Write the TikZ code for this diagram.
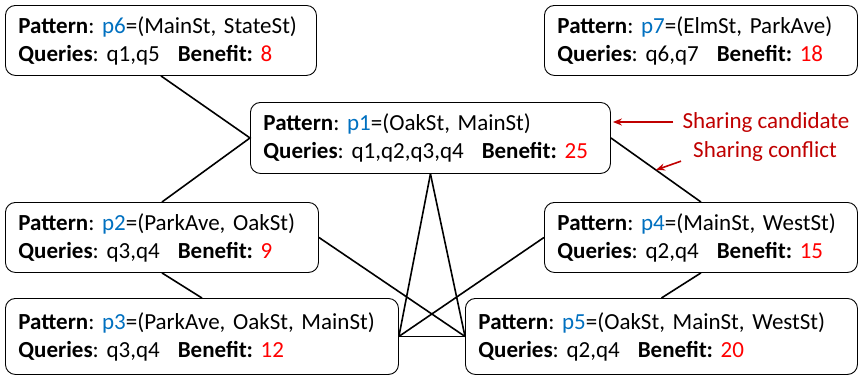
\documentclass[tikz,border=0pt]{standalone}
\usepackage{fontspec}
\setmainfont{Carlito}
\usetikzlibrary{arrows.meta, positioning, calc}
\definecolor{pblue}{HTML}{0070C0}
\definecolor{bred}{HTML}{FF0000}
\definecolor{notered}{HTML}{C00000}
\frenchspacing

\begin{document}
\begin{tikzpicture}[
      x=1pt, y=-1pt,
      pat/.style={rectangle, rounded corners=10pt, draw, line width=0.9pt, anchor=north west,
                  align=left, inner xsep=13pt, inner ysep=0pt, minimum height=70pt,
                  font=\fontsize{23}{28}\selectfont},
      link/.style={line width=1.6pt},
      note/.style={-{Stealth[length=9pt, width=7pt]}, notered, line width=1.6pt},
      notetext/.style={text=notered, inner sep=0pt, font=\fontsize{23}{28}\selectfont}
    ]
      \useasboundingbox (0,0) rectangle (861,378);
      \node[pat, text width=285pt] (p6) at (5,5)
        {\textbf{Pattern}: \textcolor{pblue}{p6}=(MainSt, StateSt)\\
         \textbf{Queries}: q1,q5\hspace{0.45em} \textbf{Benefit:} \textcolor{bred}{8}};
      \node[pat, text width=287pt] (p7) at (544,5)
        {\textbf{Pattern}: \textcolor{pblue}{p7}=(ElmSt, ParkAve)\\
         \textbf{Queries}: q6,q7\hspace{0.45em} \textbf{Benefit:} \textcolor{bred}{18}};
      \node[pat, text width=334pt, minimum height=71pt] (p1) at (250,102)
        {\textbf{Pattern}: \textcolor{pblue}{p1}=(OakSt, MainSt)\\
         \textbf{Queries}: q1,q2,q3,q4\hspace{0.45em} \textbf{Benefit:} \textcolor{bred}{25}};
      \node[pat, text width=287pt] (p2) at (5,202)
        {\textbf{Pattern}: \textcolor{pblue}{p2}=(ParkAve, OakSt)\\
         \textbf{Queries}: q3,q4\hspace{0.45em} \textbf{Benefit:} \textcolor{bred}{9}};
      \node[pat, text width=287pt] (p4) at (544,202)
        {\textbf{Pattern}: \textcolor{pblue}{p4}=(MainSt, WestSt)\\
         \textbf{Queries}: q2,q4\hspace{0.45em} \textbf{Benefit:} \textcolor{bred}{15}};
      \node[pat, text width=367pt, minimum height=76pt] (p3) at (5,298)
        {\textbf{Pattern}: \textcolor{pblue}{p3}=(ParkAve, OakSt, MainSt)\\
         \textbf{Queries}: q3,q4\hspace{0.45em} \textbf{Benefit:} \textcolor{bred}{12}};
      \node[pat, text width=366pt, minimum height=76pt] (p5) at (465,298)
        {\textbf{Pattern}: \textcolor{pblue}{p5}=(OakSt, MainSt, WestSt)\\
         \textbf{Queries}: q2,q4\hspace{0.45em} \textbf{Benefit:} \textcolor{bred}{20}};
      % conflict edges
      \draw[link] (p6.south) -- (p1.west) -- (p2.north);
      \draw[link] (p1.east) -- (p4.north);
      \draw[link] (p2.south) -- (p3.north);
      \draw[link] (p4.south) -- (p5.north);
      \draw[link] (p1.south) -- (p3.east);
      \draw[link] (p1.south) -- (p5.west);
      \draw[link] (p3.east) -- (p5.west);
      \draw[link] (p2.east) -- (p5.west);
      \draw[link] (p4.west) -- (p3.east);
      % legend
      \node[notetext, anchor=base] (cand) at (766,128) {Sharing candidate};
      \node[notetext, anchor=base] (conf) at (765,157) {Sharing conflict};
      \coordinate (cftip) at ($(p1.east)!0.5!(p4.north)$);
      \draw[note] ([xshift=-9pt]cand.west) -- ([xshift=2pt]cand.west -| p1.east);
      \draw[note] ([xshift=-12pt]conf.south west) -- (cftip);
    \end{tikzpicture}
\end{document}
